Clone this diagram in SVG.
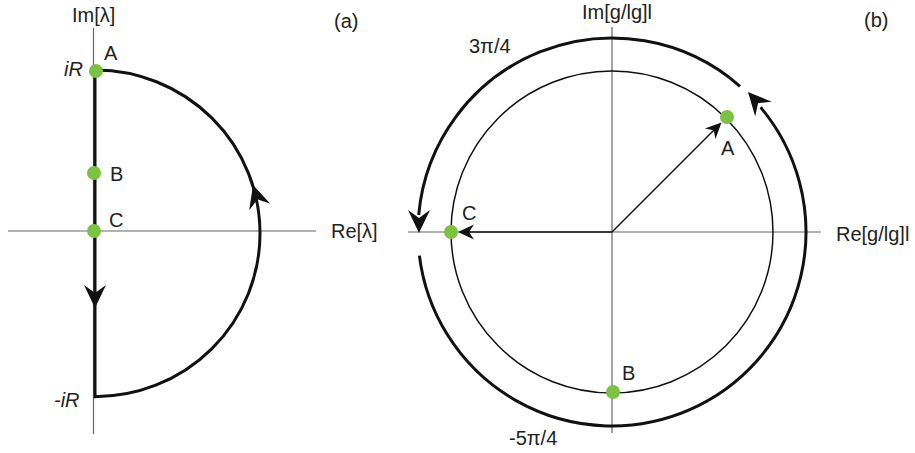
<svg xmlns="http://www.w3.org/2000/svg" xmlns:xlink="http://www.w3.org/1999/xlink" width="915" height="453" viewBox="0 0 915 453">
<style>
  .axis { stroke: #666; stroke-width: 1.2; fill: none; }
  .thick { stroke: #111; stroke-width: 3; fill: none; }
  .thin { stroke: #111; stroke-width: 1.5; fill: none; }
  .dot { fill: #7cc242; }
  .head { fill: #111; }
  text { font-family: "Liberation Sans", Arial, sans-serif; font-size: 20px; fill: #222; }
  .it { font-style: italic; }
</style>
<defs>
  <path id="bighead" d="M0,0 L-23,-11 L-15,0 L-23,11 Z"/>
  <path id="smallhead" d="M0,0 L-16,-7.5 L-11,0 L-16,7.5 Z"/>
</defs>
<rect width="915" height="453" fill="#fff"/>

<g id="panel-a">
  <g id="axes-a">
    <line class="axis" x1="93.5" y1="28" x2="93.5" y2="434"/>
    <line class="axis" x1="8" y1="231" x2="316" y2="231"/>
    <text x="72" y="22">Im[λ]</text>
    <text x="331" y="238">Re[λ]</text>
    <text x="334" y="28">(a)</text>
  </g>
  <g id="connectors-a">
    <path class="thick" d="M95,70 L95,396.7 A165,163.3 0 0 0 260,233.3 A165,163.3 0 0 0 96,70"/>
    <use href="#bighead" class="head" transform="translate(95,308) rotate(90)"/>
    <use href="#bighead" class="head" transform="translate(253,185) rotate(-107)"/>
  </g>
  <g id="node-a-A">
    <circle class="dot" cx="96" cy="71" r="7"/>
    <text x="104" y="60">A</text>
    <text class="it" x="64" y="76">iR</text>
  </g>
  <g id="node-a-B">
    <circle class="dot" cx="94" cy="173" r="7"/>
    <text x="110" y="181">B</text>
  </g>
  <g id="node-a-C">
    <circle class="dot" cx="94" cy="231" r="7"/>
    <text x="109" y="227">C</text>
  </g>
  <g id="node-a-minusiR">
    <text class="it" x="54" y="407">-iR</text>
  </g>
</g>

<g id="panel-b">
  <g id="axes-b">
    <line class="axis" x1="408" y1="232" x2="821" y2="232"/>
    <line class="axis" x1="612" y1="27" x2="612" y2="433"/>
    <text x="582" y="19">Im[g/lg]l</text>
    <text x="836" y="241">Re[g/lg]l</text>
    <text x="864" y="27">(b)</text>
  </g>
  <g id="unit-circle">
    <circle class="thin" cx="612" cy="232" r="161"/>
  </g>
  <g id="connectors-b">
    <path class="thick" d="M740,86.3 A194,194 0 0 0 418.7,215"/>
    <use href="#bighead" class="head" transform="translate(419,233) rotate(90)"/>
    <path class="thick" d="M419.4,255.6 A194,194 0 1 0 760.6,107.3"/>
    <use href="#bighead" class="head" transform="translate(748,92) rotate(-132)"/>
    <line class="thin" x1="612" y1="232" x2="714" y2="130"/>
    <use href="#smallhead" class="head" transform="translate(721.5,122.5) rotate(-45)"/>
    <line class="thin" x1="612" y1="232" x2="468" y2="232"/>
    <use href="#smallhead" class="head" transform="translate(458,232) rotate(180)"/>
    <text x="469" y="53">3π/4</text>
    <text x="509" y="445">-5π/4</text>
  </g>
  <g id="node-b-A">
    <circle class="dot" cx="727" cy="117" r="7"/>
    <text x="721" y="155">A</text>
  </g>
  <g id="node-b-B">
    <circle class="dot" cx="613" cy="392" r="7"/>
    <text x="622" y="380">B</text>
  </g>
  <g id="node-b-C">
    <circle class="dot" cx="451" cy="232" r="7"/>
    <text x="462" y="220">C</text>
  </g>
</g>
</svg>
